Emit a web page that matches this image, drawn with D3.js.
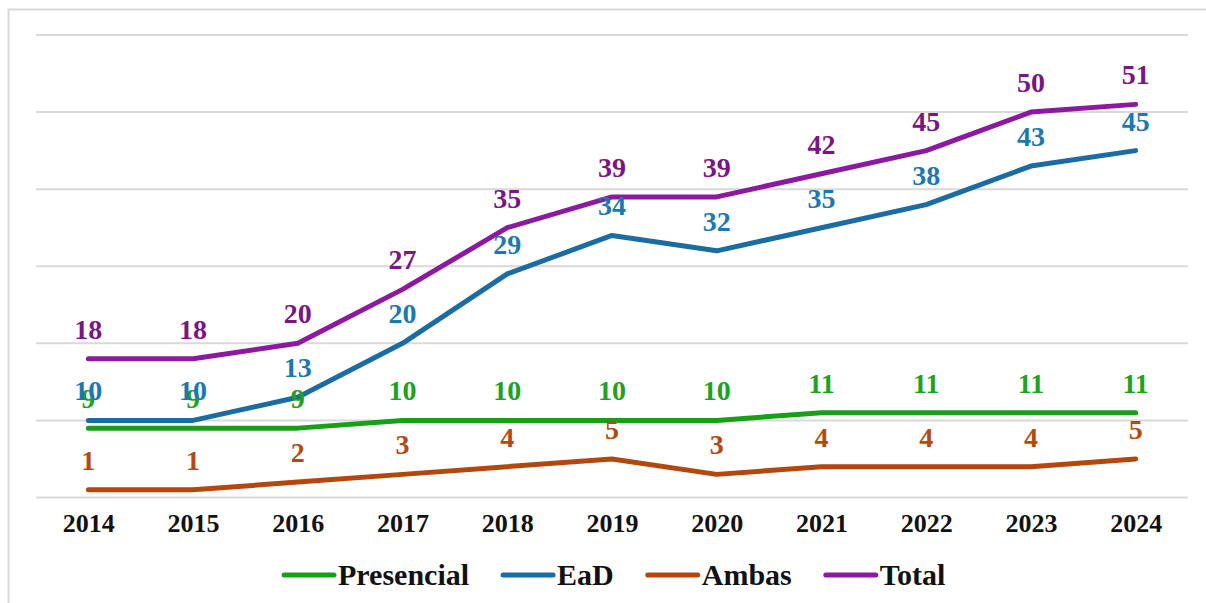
<!DOCTYPE html>
<html>
<head>
<meta charset="utf-8">
<script src="https://cdn.jsdelivr.net/npm/d3@7"></script>
<style>
  html, body { margin: 0; padding: 0; background: #fff; }
  svg { display: block; }
</style>
</head>
<body>
<div id="chart"></div>
<script>
var years = ['2014', '2015', '2016', '2017', '2018', '2019', '2020', '2021', '2022', '2023', '2024'];
var presencial = [9, 9, 9, 10, 10, 10, 10, 11, 11, 11, 11];
var ead = [10, 10, 13, 20, 29, 34, 32, 35, 38, 43, 45];
var ambas = [1, 1, 2, 3, 4, 5, 3, 4, 4, 4, 5];
var total = [18, 18, 20, 27, 35, 39, 39, 42, 45, 50, 51];
var yTicks = [0, 10, 20, 30, 40, 50, 60];

var series = [
    { name: 'Presencial', values: presencial, line: '#17a017', label: '#22a022' },
    { name: 'EaD', values: ead, line: '#1a6ca3', label: '#1d78b0' },
    { name: 'Ambas', values: ambas, line: '#b3470e', label: '#b24a14' },
    { name: 'Total', values: total, line: '#8c1aa0', label: '#7a1584' }
];

function draw_chart() {
    var width = 1206, height = 603;
    var margin = {top: 35, right: 18, bottom: 106, left: 36};
    var serif = '"Liberation Serif", "Times New Roman", serif';

    var svg = d3.select('#chart')
        .append('svg')
        .attr('width', width)
        .attr('height', height);

    // outer frame (only top and left are inside the picture)
    svg.append('rect')
        .attr('x', 8.5).attr('y', 9.5)
        .attr('width', width + 20).attr('height', height + 20)
        .attr('fill', 'none')
        .attr('stroke', '#d9d9d9')
        .attr('stroke-width', 2);

    var x = d3.scalePoint()
        .domain(years)
        .range([margin.left, width - margin.right])
        .padding(0.5);

    var y = d3.scaleLinear()
        .domain([0, 60])
        .range([height - margin.bottom + 0.5, margin.top]);

    // gridlines
    svg.append('g')
        .selectAll('line')
        .data(yTicks)
        .enter()
        .append('line')
        .attr('x1', margin.left)
        .attr('x2', width - margin.right)
        .attr('y1', d => y(d))
        .attr('y2', d => y(d))
        .attr('stroke', '#d9d9d9')
        .attr('stroke-width', 2);

    // year labels
    var xAxis = svg.append('g')
        .attr('transform', `translate(0, ${y(0)})`)
        .call(d3.axisBottom(x).tickSize(0).tickPadding(16));
    xAxis.select('.domain').remove();
    xAxis.selectAll('text')
        .attr('fill', '#111')
        .style('font-family', serif)
        .style('font-weight', 700)
        .style('font-size', '26px');

    var line = d3.line()
        .x((d, i) => x(years[i]))
        .y(d => y(d));

    series.forEach(function(s) {
        svg.append('path')
            .datum(s.values)
            .attr('d', line)
            .attr('fill', 'none')
            .attr('stroke', s.line)
            .attr('stroke-width', 5)
            .attr('stroke-linecap', 'round')
            .attr('stroke-linejoin', 'round');
    });

    // value labels
    series.forEach(function(s) {
        svg.append('g')
            .selectAll('text')
            .data(s.values)
            .enter()
            .append('text')
            .attr('x', (d, i) => x(years[i]))
            .attr('y', d => y(d) - 20)
            .attr('text-anchor', 'middle')
            .attr('fill', s.label)
            .style('font-family', serif)
            .style('font-weight', 700)
            .style('font-size', '28px')
            .text(d => d);
    });

    // legend
    var legend = svg.append('g').attr('transform', 'translate(282, 585)');
    var lx = 0;
    series.forEach(function(s) {
        legend.append('line')
            .attr('x1', lx + 2).attr('x2', lx + 52)
            .attr('y1', -10).attr('y2', -10)
            .attr('stroke', s.line)
            .attr('stroke-width', 5)
            .attr('stroke-linecap', 'round');
        var t = legend.append('text')
            .attr('x', lx + 56)
            .attr('y', 0)
            .attr('fill', '#111')
            .style('font-family', serif)
            .style('font-weight', 700)
            .style('font-size', '30px')
            .text(s.name);
        lx += 56 + t.node().getComputedTextLength() + 32;
    });
}

draw_chart();
</script>
</body>
</html>
